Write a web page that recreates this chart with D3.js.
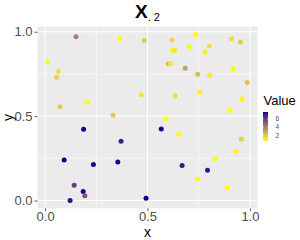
<!DOCTYPE html>
<html>
<head>
<meta charset="utf-8">
<script src="https://cdn.jsdelivr.net/npm/d3@7"></script>
<style>
  html, body { margin: 0; padding: 0; background: #fff; }
  svg text { font-family: "Liberation Sans", Arial, Helvetica, sans-serif; }
</style>
</head>
<body>
<svg id="chart" width="300" height="240"></svg>
<script>
/* ── Data (x, y, Value per point) ──────────────────────────── */
const xs = [
  0.151, 0.365, 0.484, 0.012, 0.065, 0.056, 0.469, 0.073, 0.205, 0.332,
  0.620, 0.735, 0.911, 0.953, 0.619, 0.632, 0.704, 0.801, 0.782, 0.601,
  0.613, 0.684, 0.745, 0.803, 0.918, 0.987, 0.635, 0.756, 0.961, 0.903,
  0.591, 0.188, 0.567, 0.653, 0.958, 0.371, 0.933, 0.093, 0.236, 0.355,
  0.829, 0.669, 0.793, 0.746, 0.889, 0.142, 0.186, 0.194, 0.122, 0.493
];
const ys = [
  0.970, 0.960, 0.948, 0.819, 0.764, 0.731, 0.627, 0.555, 0.582, 0.505,
  0.951, 0.982, 0.958, 0.939, 0.891, 0.889, 0.909, 0.915, 0.879, 0.811,
  0.811, 0.784, 0.748, 0.742, 0.781, 0.699, 0.621, 0.642, 0.603, 0.533,
  0.485, 0.423, 0.424, 0.393, 0.365, 0.351, 0.290, 0.240, 0.214, 0.228,
  0.248, 0.208, 0.179, 0.127, 0.076, 0.091, 0.054, 0.028, 0.000, 0.014
];
const values = [
  4.0, 0.8, 2.0, 0.9, 1.5, 1.8, 1.4, 2.0, 0.8, 2.0,
  1.6, 0.7, 1.5, 2.0, 1.0, 1.3, 0.9, 1.4, 1.1, 2.3,
  1.2, 3.0, 2.3, 1.1, 0.7, 2.2, 1.5, 1.0, 1.0, 0.7,
  0.7, 7.5, 7.5, 0.8, 1.8, 6.9, 0.8, 7.6, 7.4, 7.4,
  0.7, 7.0, 7.1, 0.7, 0.7, 5.9, 7.4, 5.3, 7.2, 7.6
];

const axisTicks   = [0, 0.5, 1];
const minorTicks  = [0.25, 0.75];
const legendTicks = [2, 4, 6];
const titleMain   = "X";
const titleSub    = ". 2";
const xTitle      = "x";
const yTitle      = "y";
const legendTitle = "Value";

/* ── Scales ──────────────────────────────────────────────── */
const svg = d3.select("#chart");
const x = d3.scaleLinear().domain([-0.037, 1.037]).range([37.5, 257.5]);
const y = d3.scaleLinear().domain([-0.046, 1.03]).range([208.3, 26.7]);
const color = d3.scaleLinear()
  .domain(d3.extent(values))
  .range(["#ffff00", "#00008b"])
  .interpolate(d3.interpolateLab);

/* ── Panel + grid ────────────────────────────────────────── */
const [px0, px1] = x.range();
const [py1, py0] = y.range();
svg.append("rect")
  .attr("x", px0).attr("y", py0)
  .attr("width", px1 - px0).attr("height", py1 - py0)
  .attr("fill", "#ebebeb");

const grid = svg.append("g");
minorTicks.forEach(t => {
  grid.append("line").attr("x1", x(t)).attr("x2", x(t)).attr("y1", py0).attr("y2", py1)
    .attr("stroke", "#fff").attr("stroke-width", 0.5);
  grid.append("line").attr("x1", px0).attr("x2", px1).attr("y1", y(t)).attr("y2", y(t))
    .attr("stroke", "#fff").attr("stroke-width", 0.5);
});
axisTicks.forEach(t => {
  grid.append("line").attr("x1", x(t)).attr("x2", x(t)).attr("y1", py0).attr("y2", py1)
    .attr("stroke", "#fff").attr("stroke-width", 1);
  grid.append("line").attr("x1", px0).attr("x2", px1).attr("y1", y(t)).attr("y2", y(t))
    .attr("stroke", "#fff").attr("stroke-width", 1);
});

/* ── Points ──────────────────────────────────────────────── */
svg.append("g")
  .selectAll("circle")
  .data(d3.range(xs.length))
  .join("circle")
  .attr("cx", i => x(xs[i]))
  .attr("cy", i => y(ys[i]))
  .attr("r", 2.5)
  .attr("fill", i => color(values[i]));

/* ── Axes ────────────────────────────────────────────────── */
const fmt = d3.format(".1f");
function styleAxis(g) {
  g.select(".domain").remove();
  g.selectAll(".tick line").attr("stroke", "#333").attr("stroke-width", 0.8);
  g.selectAll(".tick text")
    .attr("fill", "#4d4d4d")
    .style("font-size", "13px")
    .style("font-family", "'Liberation Sans', Arial, sans-serif");
}
svg.append("g")
  .attr("transform", `translate(0,${py1})`)
  .call(d3.axisBottom(x).tickValues(axisTicks).tickFormat(fmt).tickSize(3).tickPadding(0.5))
  .call(styleAxis);
svg.append("g")
  .attr("transform", `translate(${px0},0)`)
  .call(d3.axisLeft(y).tickValues(axisTicks).tickFormat(fmt).tickSize(3).tickPadding(2))
  .call(styleAxis);

svg.append("text")
  .attr("x", (px0 + px1) / 2).attr("y", 237)
  .attr("text-anchor", "middle")
  .style("font-size", "14px")
  .text(xTitle);
svg.append("text")
  .attr("transform", `translate(13,${(py0 + py1) / 2}) rotate(-90)`)
  .attr("text-anchor", "middle")
  .style("font-size", "14px")
  .text(yTitle);

/* ── Title: bold X with small subscript ──────────────────── */
const title = svg.append("text")
  .attr("x", (px0 + px1) / 2).attr("y", 17.5)
  .attr("text-anchor", "middle");
title.append("tspan").style("font-size", "19px").style("font-weight", "bold").text(titleMain);
title.append("tspan").attr("dy", 3.4).style("font-size", "11px").text(titleSub);

/* ── Colour bar legend ───────────────────────────────────── */
const barX = 263, barW = 5;
const lg = d3.scaleLinear().domain(color.domain()).range([141, 112]);
const grad = svg.append("defs").append("linearGradient")
  .attr("id", "valgrad").attr("x1", 0).attr("x2", 0).attr("y1", 1).attr("y2", 0);
d3.range(0, 1.0001, 0.1).forEach(t => {
  const v = color.domain()[0] + t * (color.domain()[1] - color.domain()[0]);
  grad.append("stop").attr("offset", t).attr("stop-color", color(v));
});
svg.append("rect")
  .attr("x", barX).attr("y", lg.range()[1])
  .attr("width", barW).attr("height", lg.range()[0] - lg.range()[1])
  .attr("fill", "url(#valgrad)");

const lgTicks = svg.append("g");
legendTicks.forEach(t => {
  lgTicks.append("line").attr("x1", barX).attr("x2", barX + 1)
    .attr("y1", lg(t)).attr("y2", lg(t)).attr("stroke", "#fff").attr("stroke-width", 0.5);
  lgTicks.append("line").attr("x1", barX + barW - 1).attr("x2", barX + barW)
    .attr("y1", lg(t)).attr("y2", lg(t)).attr("stroke", "#fff").attr("stroke-width", 0.5);
  lgTicks.append("text")
    .attr("x", 275.5).attr("y", lg(t) + 2.3)
    .attr("fill", "#4d4d4d")
    .style("font-size", "6.5px")
    .text(t);
});
svg.append("text")
  .attr("x", 263.5).attr("y", 105)
  .style("font-size", "13px")
  .text(legendTitle);
</script>
</body>
</html>
